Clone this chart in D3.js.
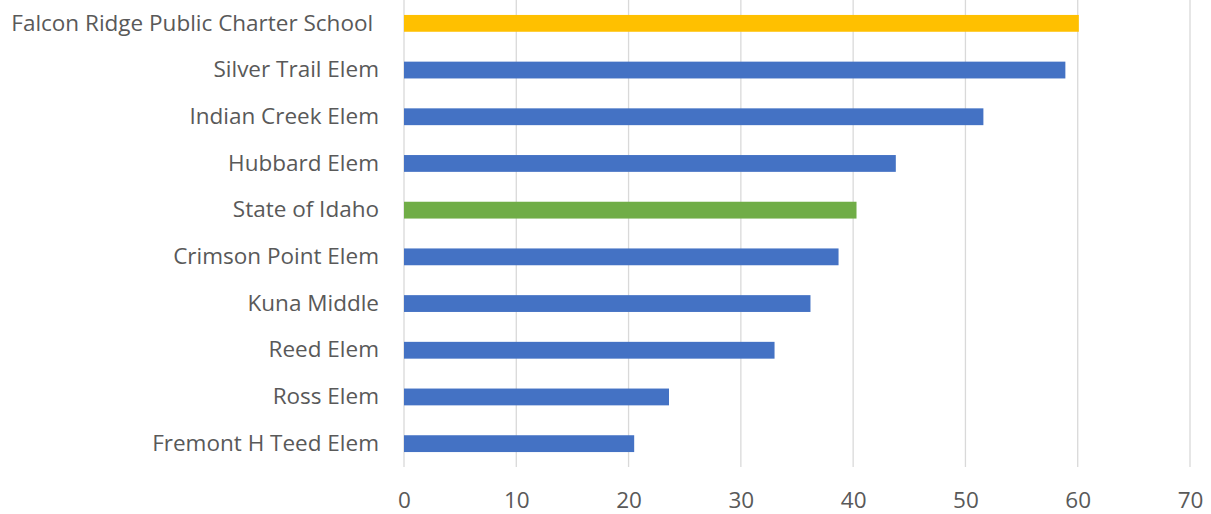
<!DOCTYPE html>
<html>
<head>
<meta charset="utf-8">
<script src="https://d3js.org/d3.v7.min.js"></script>
<style>
  body { margin: 0; background: #fff; }
  text { font-family: "Open Sans", sans-serif; fill: #595959; white-space: pre; }
</style>
</head>
<body>
<svg width="1211" height="514"></svg>
<script>
// schools, top to bottom
var schools = ["Falcon Ridge Public Charter School ", "Silver Trail Elem", "Indian Creek Elem",
               "Hubbard Elem", "State of Idaho", "Crimson Point Elem", "Kuna Middle",
               "Reed Elem", "Ross Elem", "Fremont H Teed Elem"];
var values = [60.1, 58.9, 51.6, 43.8, 40.3, 38.7, 36.2, 33.0, 23.6, 20.5];
var barColors = ["#FFC000", "#4472C4", "#4472C4", "#4472C4", "#70AD47",
                 "#4472C4", "#4472C4", "#4472C4", "#4472C4", "#4472C4"];
var xTicks = [0, 10, 20, 30, 40, 50, 60, 70];

var svg = d3.select("svg");
var plotLeft = 404, plotRight = 1190, plotTop = 0, plotBottom = 467;

var x = d3.scaleLinear().domain([0, 70]).range([plotLeft, plotRight]);
var y = d3.scaleBand().domain(schools).range([plotTop, plotBottom]).paddingInner(0.64).paddingOuter(0.32);

// gridlines
svg.append("g").selectAll("line")
    .data(xTicks)
    .enter().append("line")
    .attr("x1", function (d) { return x(d); })
    .attr("x2", function (d) { return x(d); })
    .attr("y1", plotTop)
    .attr("y2", plotBottom)
    .style("stroke", "#d9d9d9")
    .style("stroke-width", 1.3);

// bars
svg.append("g").selectAll("rect")
    .data(values)
    .enter().append("rect")
    .attr("x", x(0))
    .attr("y", function (d, i) { return y(schools[i]); })
    .attr("width", function (d) { return x(d) - x(0); })
    .attr("height", y.bandwidth())
    .style("fill", function (d, i) { return barColors[i]; });

// category labels
var yAxis = svg.append("g")
    .attr("transform", "translate(" + (plotLeft - 25) + ",0)")
    .call(d3.axisLeft(y).tickSize(0).tickPadding(0));
yAxis.select(".domain").remove();
yAxis.selectAll("text").style("font-size", "22.5px").style("fill", "#595959")
    .style("font-family", "'Open Sans', sans-serif");

// x tick labels
var xAxis = svg.append("g")
    .attr("transform", "translate(0," + (plotBottom + 25) + ")")
    .call(d3.axisBottom(x).tickValues(xTicks).tickSize(0).tickPadding(0));
xAxis.select(".domain").remove();
xAxis.selectAll("text").style("font-size", "22.5px").style("fill", "#595959")
    .style("font-family", "'Open Sans', sans-serif");
</script>
</body>
</html>
